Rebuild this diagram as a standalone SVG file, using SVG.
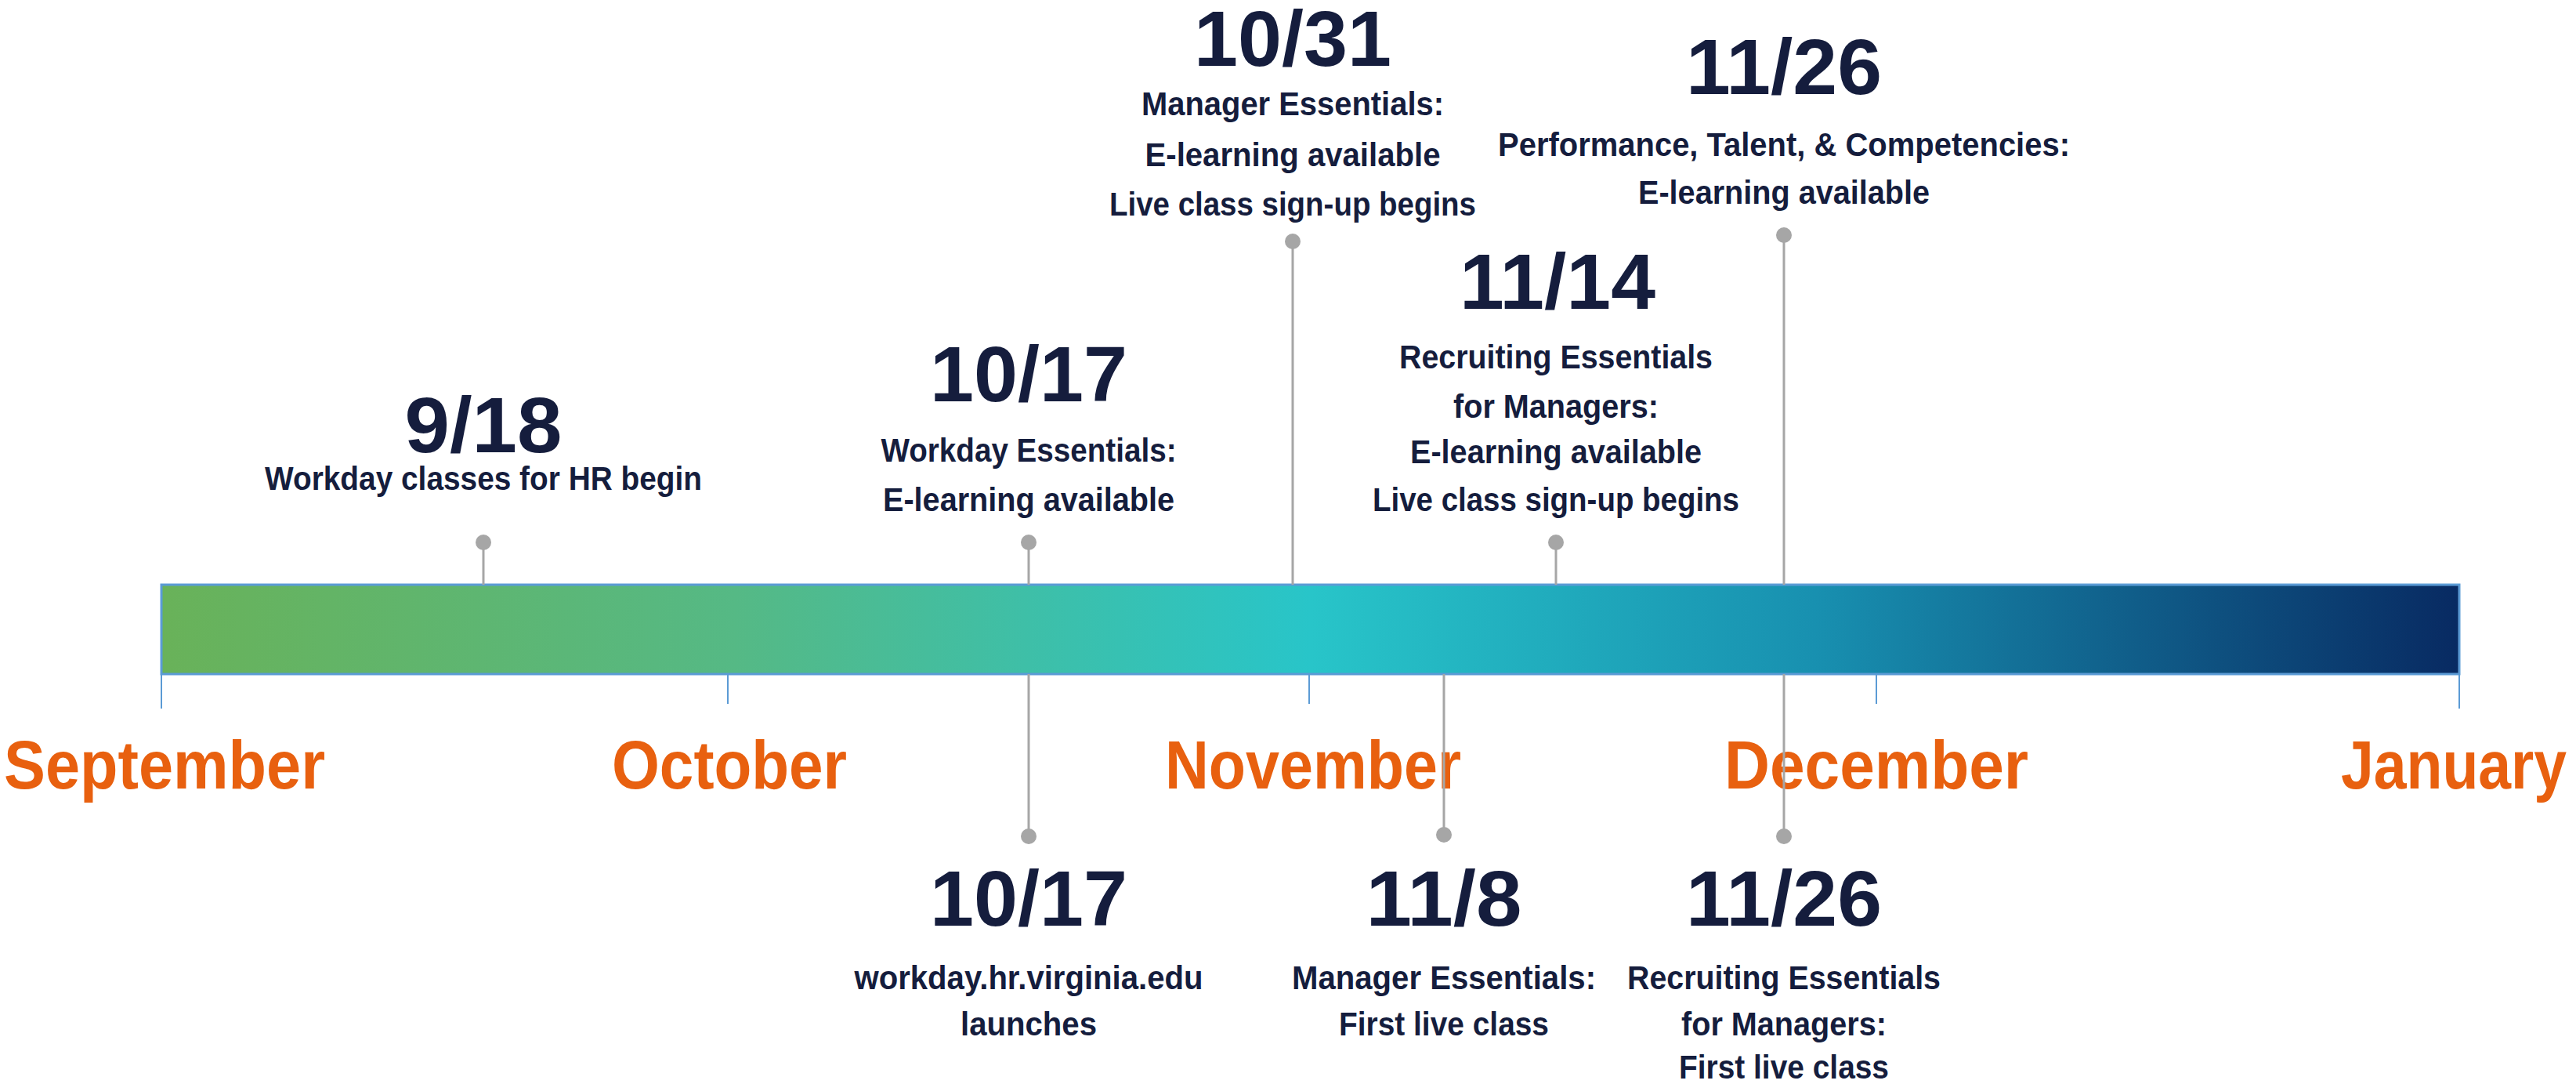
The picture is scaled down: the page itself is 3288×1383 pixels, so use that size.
<svg xmlns="http://www.w3.org/2000/svg" width="3288" height="1383" viewBox="0 0 3288 1383">
<defs>
<linearGradient id="g" x1="0" y1="0" x2="1" y2="0">
<stop offset="0" stop-color="#69b259"/>
<stop offset="0.25" stop-color="#55b985"/>
<stop offset="0.5" stop-color="#28c5c9"/>
<stop offset="0.72" stop-color="#1890b0"/>
<stop offset="1" stop-color="#082a62"/>
</linearGradient>
</defs>
<style>
text{font-family:"Liberation Sans",Arial,sans-serif;font-weight:bold;text-anchor:middle;fill:#151d3d}
.d{font-size:100px}
.t{font-size:42px}
.m{font-size:88px;fill:#e8600f}
.s{stroke:#a6a6a6;stroke-width:3;fill:none}
.k{stroke:#5b9bd5;stroke-width:2}
.p{fill:#a6a6a6}
</style>
<rect width="3288" height="1383" fill="#fff"/>
<g id="bar">
<rect x="206" y="746" width="2933" height="114" fill="url(#g)" stroke="#5b9bd5" stroke-width="3"/>
<line class="k" x1="206" y1="860" x2="206" y2="904"/>
<line class="k" x1="929" y1="860" x2="929" y2="898"/>
<line class="k" x1="1671" y1="860" x2="1671" y2="898"/>
<line class="k" x1="2395" y1="860" x2="2395" y2="898"/>
<line class="k" x1="3139" y1="860" x2="3139" y2="904"/>
</g>
<g id="months">
<text class="m" x="210" y="1006" textLength="410" lengthAdjust="spacingAndGlyphs">September</text>
<text class="m" x="931" y="1006" textLength="300" lengthAdjust="spacingAndGlyphs">October</text>
<text class="m" x="1676" y="1006" textLength="378" lengthAdjust="spacingAndGlyphs">November</text>
<text class="m" x="2395" y="1006" textLength="388" lengthAdjust="spacingAndGlyphs">December</text>
<text class="m" x="3132" y="1006" textLength="288" lengthAdjust="spacingAndGlyphs">January</text>
</g>
<g id="connectors">
<line class="s" x1="617" y1="692" x2="617" y2="746"/>
<line class="s" x1="1313" y1="692" x2="1313" y2="746"/>
<line class="s" x1="1650" y1="308" x2="1650" y2="746"/>
<line class="s" x1="1986" y1="692" x2="1986" y2="746"/>
<line class="s" x1="2277" y1="300" x2="2277" y2="746"/>
<line class="s" x1="1313" y1="860" x2="1313" y2="1067"/>
<line class="s" x1="1843" y1="860" x2="1843" y2="1065"/>
<line class="s" x1="2277" y1="860" x2="2277" y2="1067"/>
<circle class="p" cx="617" cy="692" r="10"/>
<circle class="p" cx="1313" cy="692" r="10"/>
<circle class="p" cx="1650" cy="308" r="10"/>
<circle class="p" cx="1986" cy="692" r="10"/>
<circle class="p" cx="2277" cy="300" r="10"/>
<circle class="p" cx="1313" cy="1067" r="10"/>
<circle class="p" cx="1843" cy="1065" r="10"/>
<circle class="p" cx="2277" cy="1067" r="10"/>
</g>
<g id="e918">
<text class="d" x="617" y="577" textLength="201" lengthAdjust="spacingAndGlyphs">9/18</text>
<text class="t" x="617" y="625" textLength="558" lengthAdjust="spacingAndGlyphs">Workday classes for HR begin</text>
</g>
<g id="e1017a">
<text class="d" x="1313" y="512" textLength="252" lengthAdjust="spacingAndGlyphs">10/17</text>
<text class="t" x="1313" y="589" textLength="377" lengthAdjust="spacingAndGlyphs">Workday Essentials:</text>
<text class="t" x="1313" y="652" textLength="372" lengthAdjust="spacingAndGlyphs">E-learning available</text>
</g>
<g id="e1031">
<text class="d" x="1650" y="84" textLength="252" lengthAdjust="spacingAndGlyphs">10/31</text>
<text class="t" x="1650" y="147" textLength="386" lengthAdjust="spacingAndGlyphs">Manager Essentials:</text>
<text class="t" x="1650" y="212" textLength="377" lengthAdjust="spacingAndGlyphs">E-learning available</text>
<text class="t" x="1650" y="275" textLength="468" lengthAdjust="spacingAndGlyphs">Live class sign-up begins</text>
</g>
<g id="e1114">
<text class="d" x="1988" y="394" textLength="250" lengthAdjust="spacingAndGlyphs">11/14</text>
<text class="t" x="1986" y="470" textLength="400" lengthAdjust="spacingAndGlyphs">Recruiting Essentials</text>
<text class="t" x="1986" y="533" textLength="262" lengthAdjust="spacingAndGlyphs">for Managers:</text>
<text class="t" x="1986" y="591" textLength="372" lengthAdjust="spacingAndGlyphs">E-learning available</text>
<text class="t" x="1986" y="652" textLength="468" lengthAdjust="spacingAndGlyphs">Live class sign-up begins</text>
</g>
<g id="e1126a">
<text class="d" x="2277" y="120" textLength="250" lengthAdjust="spacingAndGlyphs">11/26</text>
<text class="t" x="2277" y="199" textLength="730" lengthAdjust="spacingAndGlyphs">Performance, Talent, &amp; Competencies:</text>
<text class="t" x="2277" y="260" textLength="372" lengthAdjust="spacingAndGlyphs">E-learning available</text>
</g>
<g id="e1017b">
<text class="d" x="1313" y="1181" textLength="252" lengthAdjust="spacingAndGlyphs">10/17</text>
<text class="t" x="1313" y="1262" textLength="445" lengthAdjust="spacingAndGlyphs">workday.hr.virginia.edu</text>
<text class="t" x="1313" y="1321" textLength="174" lengthAdjust="spacingAndGlyphs">launches</text>
</g>
<g id="e118">
<text class="d" x="1843" y="1181" textLength="199" lengthAdjust="spacingAndGlyphs">11/8</text>
<text class="t" x="1843" y="1262" textLength="388" lengthAdjust="spacingAndGlyphs">Manager Essentials:</text>
<text class="t" x="1843" y="1321" textLength="268" lengthAdjust="spacingAndGlyphs">First live class</text>
</g>
<g id="e1126b">
<text class="d" x="2277" y="1181" textLength="250" lengthAdjust="spacingAndGlyphs">11/26</text>
<text class="t" x="2277" y="1262" textLength="400" lengthAdjust="spacingAndGlyphs">Recruiting Essentials</text>
<text class="t" x="2277" y="1321" textLength="262" lengthAdjust="spacingAndGlyphs">for Managers:</text>
<text class="t" x="2277" y="1376" textLength="268" lengthAdjust="spacingAndGlyphs">First live class</text>
</g>
</svg>
